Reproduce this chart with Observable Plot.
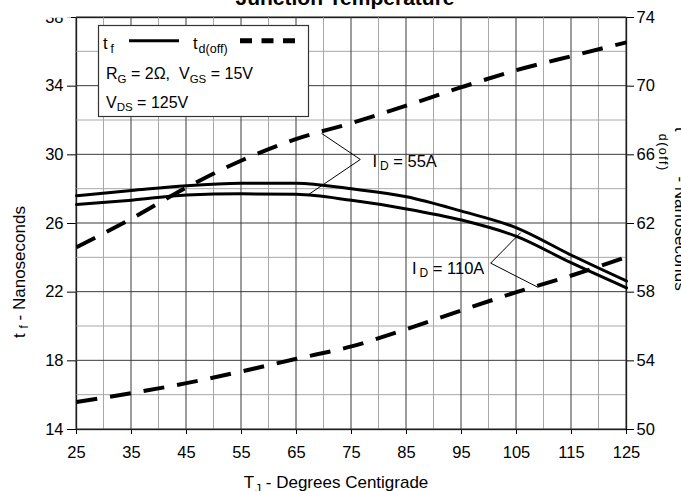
<!DOCTYPE html>
<html><head><meta charset="utf-8">
<script src="https://cdn.jsdelivr.net/npm/d3@7"></script>
<script src="https://cdn.jsdelivr.net/npm/@observablehq/plot@0.6"></script>
<style>
html,body{margin:0;padding:0;background:#fff;overflow:hidden;}
</style></head><body><div id="chart"></div>
<script>
// ---- data ----
const temps = [25, 35, 45, 55, 65, 75, 85, 95, 105, 115, 125];
const tf110A = [27.62, 27.92, 28.2, 28.34, 28.35, 28.02, 27.56, 26.72, 25.75, 24.15, 22.65];
const tf55A  = [27.1, 27.36, 27.66, 27.73, 27.7, 27.35, 26.85, 26.2, 25.25, 23.7, 22.25];
const tdoff55A  = [60.62, 62.28, 64.1, 65.67, 66.93, 67.85, 68.87, 69.94, 70.93, 71.75, 72.55];
const tdoff110A = [51.6, 52.12, 52.7, 53.38, 54.12, 54.84, 55.85, 56.94, 58.0, 58.97, 60.05];
const xTicks = [25, 35, 45, 55, 65, 75, 85, 95, 105, 115, 125];
const xMinor = [30, 40, 50, 60, 70, 80, 90, 100, 110, 120];
const yLeftTicks = [14, 18, 22, 26, 30, 34, 38];
const yMinor = [16, 20, 24, 28, 32, 36];
const yRightTicks = [50, 54, 58, 62, 66, 70, 74];
const rightOffset = 36; // right axis value = left axis value + 36
const annotLabels = ["I{D} = 55A", "I{D} = 110A"];
const annotT = [78.8, 86.0];
const annotV = [29.61, 23.37];
const leader55 = [[69.6, 31.24], [76.6, 29.73], [67.2, 27.69]];
const leader110 = [[105.7, 25.45], [100.3, 23.69], [108.8, 22.3]];

// ---- build tables ----
const tfRows = [];
temps.forEach((t, i) => {
  tfRows.push({T: t, v: tf110A[i], s: "110A"});
  tfRows.push({T: t, v: tf55A[i], s: "55A"});
});
const tdRows = [];
temps.forEach((t, i) => {
  tdRows.push({T: t, v: tdoff55A[i] - rightOffset, s: "55A"});
  tdRows.push({T: t, v: tdoff110A[i] - rightOffset, s: "110A"});
});
const leaderRows = [
  ...leader55.map(([T, v]) => ({T, v, s: "55A"})),
  ...leader110.map(([T, v]) => ({T, v, s: "110A"}))
];
const annotRows = annotLabels.map((l, i) => ({label: l, T: annotT[i], v: annotV[i]}));

const FONT = "'Liberation Sans', Arial, Helvetica, sans-serif";
const xDom = [25, 125];
const yDom = [14, 38];

const plot = Plot.plot({
  width: 681,
  height: 491,
  marginLeft: 76,
  marginRight: 55,
  marginTop: 17,
  marginBottom: 62,
  style: {fontFamily: FONT, fontSize: "16.5px", color: "black", background: "white"},
  x: {domain: xDom},
  y: {domain: yDom},
  marks: [
    Plot.frame({stroke: "black", strokeWidth: 1.3, fill: "none"}),
    Plot.axisX(xTicks, {tickSize: 5, tickPadding: 12, label: null, fontSize: 16.5}),
    Plot.axisY(yLeftTicks, {anchor: "left", tickSize: 9, tickPadding: 4, label: null, fontSize: 16.5}),
    Plot.axisY(yRightTicks.map(d => d - rightOffset), {anchor: "right", tickSize: 7, tickPadding: 3, label: null,
      tickFormat: d => String(Math.round(d + rightOffset)), fontSize: 16.5}),
    Plot.line(tfRows, {x: "T", y: "v", z: "s", stroke: "black", strokeWidth: 3, curve: "monotone-x"}),
    Plot.line(tdRows, {x: "T", y: "v", z: "s", stroke: "black", strokeWidth: 4, strokeDasharray: "21,13",
      strokeLinecap: "butt", curve: "monotone-x"}),
    Plot.line(leaderRows, {x: "T", y: "v", z: "s", stroke: "black", strokeWidth: 1}),
    Plot.text(annotRows, {x: "T", y: "v", text: "label", textAnchor: "start", lineAnchor: "middle",
      fontSize: 16.5, fill: "black"})
  ]
});
document.getElementById("chart").appendChild(plot);

const svg = d3.select(plot);
const sx = plot.scale("x"), sy = plot.scale("y");
const X = v => sx.apply(v), Y = v => sy.apply(v);

// grid lines through the plot's own scales, inserted before the first curve group
const firstLine = plot.querySelector('g[aria-label="line"]');
const grid = document.createElementNS("http://www.w3.org/2000/svg", "g");
plot.insertBefore(grid, firstLine);
const gsel = d3.select(grid);
function vline(v, color) {
  gsel.append("path").attr("d", `M${X(v)},${Y(yDom[0])}V${Y(yDom[1])}`)
    .attr("stroke", color).attr("stroke-width", 1).attr("fill", "none");
}
function hline(v, color) {
  gsel.append("path").attr("d", `M${X(xDom[0])},${Y(v)}H${X(xDom[1])}`)
    .attr("stroke", color).attr("stroke-width", 1).attr("fill", "none");
}
xMinor.forEach(v => vline(v, "#a8a8a8"));
yMinor.forEach(v => hline(v, "#a8a8a8"));
xTicks.forEach(v => vline(v, "#3a3a3a"));
yLeftTicks.forEach(v => hline(v, "#3a3a3a"));

// rich text helper: {..} marks a subscript
function rich(textSel, markup, opt = {}) {
  const subSize = opt.subSize || "0.72em";
  const shift = opt.shift || 3.5;
  const subDx = opt.subDx || 0;
  const subLs = opt.subLs || null;
  textSel.text(null);
  const parts = markup.split(/(\{[^}]*\})/).filter(p => p.length);
  let shifted = false;
  parts.forEach(p => {
    if (p.startsWith("{")) {
      const ts = textSel.append("tspan").attr("font-size", subSize).attr("dy", shift).text(p.slice(1, -1));
      if (subDx) ts.attr("dx", subDx);
      if (subLs) ts.attr("letter-spacing", subLs);
      shifted = true;
    } else {
      const ts = textSel.append("tspan").text(p);
      if (shifted) { ts.attr("dy", -shift); shifted = false; }
    }
  });
}

// annotation texts with white boxes behind them
const pads = [{l: 13, r: 6, t: 9, b: 6}, {l: 5, r: 4, t: 8, b: 4}];
svg.selectAll("text").each(function() {
  const idx = annotLabels.indexOf(this.textContent);
  if (idx < 0) return;
  rich(d3.select(this), annotLabels[idx], {subSize: "12px", shift: 3, subDx: 3});
  const bb = this.getBBox();
  const p = pads[idx];
  const r = document.createElementNS("http://www.w3.org/2000/svg", "rect");
  this.parentNode.insertBefore(r, this);
  d3.select(r)
    .attr("x", bb.x - p.l).attr("y", bb.y - p.t)
    .attr("width", bb.width + p.l + p.r).attr("height", bb.height + p.t + p.b)
    .attr("fill", "white").attr("stroke", "none");
});

// legend box
const lg = svg.append("g").attr("font-family", FONT).attr("font-size", 16).attr("fill", "black")
  .attr("text-anchor", "start");
lg.append("rect").attr("x", 98.5).attr("y", 25.5).attr("width", 210).attr("height", 91)
  .attr("fill", "white").attr("stroke", "#333").attr("stroke-width", 1.2);
rich(lg.append("text").attr("x", 103).attr("y", 49).attr("font-size", 16.5), "t{f}", {subSize: "12px", shift: 4, subDx: 3});
lg.append("line").attr("x1", 129).attr("x2", 179).attr("y1", 40.7).attr("y2", 40.7)
  .attr("stroke", "black").attr("stroke-width", 3);
rich(lg.append("text").attr("x", 193).attr("y", 49).attr("font-size", 16.5), "t{d(off)}", {subSize: "12.5px", shift: 4, subDx: 1});
lg.append("line").attr("x1", 240).attr("x2", 296).attr("y1", 40.7).attr("y2", 40.7)
  .attr("stroke", "black").attr("stroke-width", 5).attr("stroke-dasharray", "12,9.5");
rich(lg.append("text").attr("x", 106).attr("y", 79.3), "R{G} = 2Ω,  V{GS} = 15V", {subSize: "11.5px", shift: 3.4});
rich(lg.append("text").attr("x", 106).attr("y", 108), "V{DS} = 125V", {subSize: "11.5px", shift: 3.4});

// title (clipped at the top, as in the reference)
svg.append("text").attr("x", 345).attr("y", 4.5).attr("text-anchor", "middle")
  .attr("font-family", FONT).attr("font-weight", "bold").attr("font-size", 21).attr("fill", "black")
  .text("Junction Temperature");

// axis titles
rich(svg.append("text").attr("x", 336).attr("y", 487.5).attr("text-anchor", "middle")
  .attr("font-family", FONT).attr("font-size", 17).attr("fill", "black"),
  "T{J} - Degrees Centigrade", {subSize: "12px", shift: 5, subDx: 1});
rich(svg.append("text").attr("transform", "translate(25,272) rotate(-90)").attr("text-anchor", "middle")
  .attr("font-family", FONT).attr("font-size", 17).attr("fill", "black"),
  "t {f} - Nanoseconds", {subSize: "12px", shift: 3});
rich(svg.append("text").attr("transform", "translate(675,127) rotate(90)").attr("text-anchor", "start")
  .attr("font-family", FONT).attr("font-size", 17).attr("fill", "black"),
  "t{d(off)} - Nanoseconds", {subSize: "12.5px", shift: 16, subLs: 1.5, subDx: 2});
</script></body></html>
